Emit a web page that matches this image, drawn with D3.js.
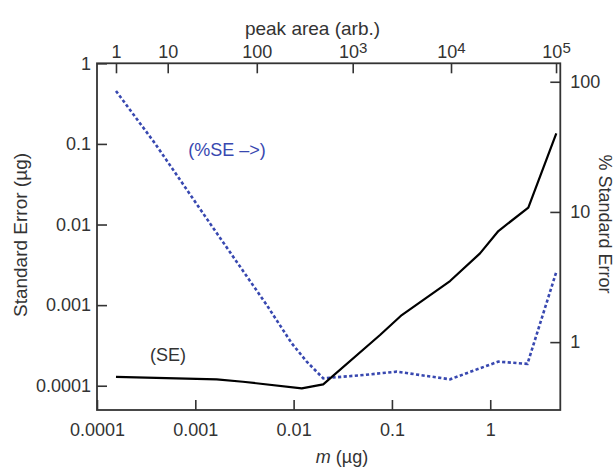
<!DOCTYPE html>
<html>
<head>
<meta charset="utf-8">
<script src="https://cdn.jsdelivr.net/npm/d3@7"></script>
<style>
  body { margin: 0; background: #fff; }
  svg text { font-family: "Liberation Sans", Arial, sans-serif; fill: #333; }
</style>
</head>
<body>
<div id="chart"></div>
<script>
// ___________________________ Data _______________________________
// Standard error (left axis) vs mass
const massSE = [1.56e-4, 1.65e-3, 3.05e-3, 0.0121, 0.0200, 0.0757, 0.126, 0.390, 0.787, 1.21, 2.44, 4.7];
const seValues = [1.29e-4, 1.2e-4, 1.12e-4, 9.29e-5, 1.04e-4, 4.26e-4, 7.53e-4, 1.99e-3, 4.39e-3, 8.3e-3, 0.01625, 0.1353];

// % standard error (right axis) vs mass
const massPct = [1.56e-4, 3.89e-4, 1.41e-3, 5.32e-3, 9.57e-3, 0.0136, 0.0200, 0.0512, 0.112, 0.390, 0.787, 1.21, 2.39, 4.67];
const pctValues = [85.0, 33.6, 8.17, 1.93, 0.979, 0.708, 0.527, 0.559, 0.593, 0.518, 0.630, 0.708, 0.681, 3.41];

// tick labels
const massTicks = [0.0001, 0.001, 0.01, 0.1, 1];
const seTicks = [1, 0.1, 0.01, 0.001, 0.0001];
const pctTicks = [100, 10, 1];
// peak area ticks and the mass each one corresponds to
const peakTicks = [1, 10, 100, 1e3, 1e4, 1e5];
const peakMass = [1.56e-4, 5.24e-4, 4.22e-3, 0.0399, 0.399, 4.67];

// ___________________________ Chart _______________________________
const W = 615, H = 467;
const margin = { top: 63.3, right: 54.7, bottom: 57, left: 97 };

const svg = d3.select("#chart").append("svg")
    .attr("width", W)
    .attr("height", H);

const x = d3.scaleLog().domain([1e-4, 5.16]).range([margin.left, W - margin.right]);
const y = d3.scaleLog().domain([5e-5, 1]).range([H - margin.bottom, margin.top]);
const yR = d3.scaleLog().domain([0.301, 138.6]).range([H - margin.bottom, margin.top]);
// piecewise log scale: peak area -> pixel (through mass)
const xTop = d3.scaleLog().domain(peakTicks).range(peakMass.map(m => x(m)));

const fmt = d => String(d);

// bottom axis
svg.append("g")
    .attr("class", "axis")
    .attr("transform", "translate(0," + (H - margin.bottom) + ")")
    .call(d3.axisBottom(x).tickValues(massTicks).tickFormat(fmt).tickSizeInner(-10).tickSizeOuter(0).tickPadding(13));

// left axis
svg.append("g")
    .attr("class", "axis")
    .attr("transform", "translate(" + margin.left + ",0)")
    .call(d3.axisLeft(y).tickValues(seTicks).tickFormat(fmt).tickSizeInner(-10).tickSizeOuter(0).tickPadding(6));

// right axis
svg.append("g")
    .attr("class", "axis")
    .attr("transform", "translate(" + (W - margin.right) + ",0)")
    .call(d3.axisRight(yR).tickValues(pctTicks).tickFormat(fmt).tickSizeInner(-10).tickSizeOuter(0).tickPadding(10));

// top axis
const topAxis = svg.append("g")
    .attr("class", "axis")
    .attr("transform", "translate(0," + margin.top + ")")
    .call(d3.axisTop(xTop).tickValues(peakTicks).tickFormat(fmt).tickSizeInner(-10).tickSizeOuter(0).tickPadding(5));

// powers of ten with superscripts
topAxis.selectAll(".tick text").each(function (d) {
    if (d >= 1000) {
        const t = d3.select(this).text("10");
        t.append("tspan")
            .attr("dy", "-5")
            .style("font-size", "15px")
            .text(Math.round(Math.log10(d)));
    }
});

svg.selectAll(".axis .domain").remove();
svg.selectAll(".axis line").attr("stroke", "#333").attr("stroke-width", 1.6);
svg.selectAll(".axis text").style("font-size", "18px").attr("fill", "#333");

// frame
svg.append("rect")
    .attr("x", margin.left)
    .attr("y", margin.top)
    .attr("width", W - margin.left - margin.right)
    .attr("height", H - margin.top - margin.bottom)
    .attr("fill", "none")
    .attr("stroke", "#333")
    .attr("stroke-width", 1.8);

// lines
const seLine = d3.line()
    .x((d, i) => x(massSE[i]))
    .y(d => y(d));

const pctLine = d3.line()
    .x((d, i) => x(massPct[i]))
    .y(d => yR(d));

svg.append("path")
    .datum(pctValues)
    .attr("d", pctLine)
    .attr("fill", "none")
    .attr("stroke", "#3848b0")
    .attr("stroke-width", 2.6)
    .attr("stroke-dasharray", "3.2,2.4");

svg.append("path")
    .datum(seValues)
    .attr("d", seLine)
    .attr("fill", "none")
    .attr("stroke", "#000")
    .attr("stroke-width", 2.2)
    .attr("stroke-linejoin", "round");

// annotations
svg.append("text")
    .attr("x", 227)
    .attr("y", 156)
    .style("text-anchor", "middle")
    .style("font-size", "18px")
    .style("fill", "#3848b0")
    .text("(%SE \u2013>)");

svg.append("text")
    .attr("x", 168)
    .attr("y", 361)
    .style("text-anchor", "middle")
    .style("font-size", "18px")
    .text("(SE)");

// axis titles
svg.append("text")
    .attr("transform", "translate(312.5,35) ")
    .style("text-anchor", "middle")
    .style("font-size", "19px")
    .text("peak area (arb.)");

const xTitle = svg.append("text")
    .attr("transform", "translate(342,463)")
    .style("text-anchor", "middle")
    .style("font-size", "18px");
xTitle.append("tspan").style("font-style", "italic").text("m");
xTitle.append("tspan").text(" (\u00b5g)");

svg.append("text")
    .attr("transform", "translate(27,235) rotate(-90)")
    .style("text-anchor", "middle")
    .style("font-size", "19px")
    .text("Standard Error (\u00b5g)");

svg.append("text")
    .attr("transform", "translate(599,224) rotate(90)")
    .style("text-anchor", "middle")
    .style("font-size", "18px")
    .text("% Standard Error");
</script>
</body>
</html>
